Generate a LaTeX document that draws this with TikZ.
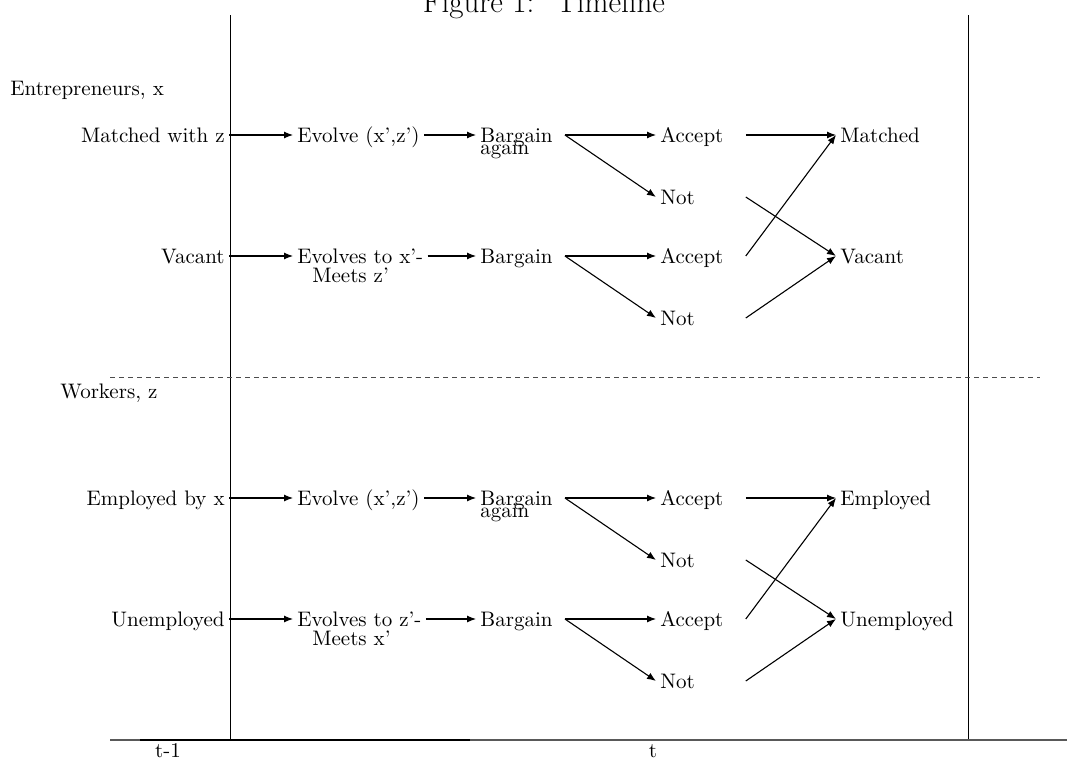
\documentclass[tikz,border=0pt]{standalone}
\usetikzlibrary{arrows.meta}
\begin{document}
\begin{tikzpicture}[x=0.5pt,y=-0.5pt,
  every node/.style={font=\fontsize{10.5}{12.6}\selectfont},
  lbl/.style={inner xsep=2pt,inner ysep=0pt,text height=7pt,text depth=0pt},
  opt/.style={lbl,anchor=west,text width=40.5pt,align=left},
  arr/.style={line width=0.55pt,-{Latex[length=4.5pt,width=3.5pt]}},
  rule/.style={line width=0.5pt}]
\useasboundingbox (0,0) rectangle (1067,760);
% title
\node[anchor=base,font=\fontsize{15.5}{18}\selectfont,inner sep=0] (title) at (544,12) {Figure 1:~ Timeline};
% frame lines
\draw[rule] (230,15) -- (230,740);
\draw[rule] (968,15) -- (968,740);
\draw[rule,dashed,dash pattern=on 2.5pt off 2pt,black!70] (110,377) -- (1040,377);
\draw[line width=0.6pt,black!65] (110,740) -- (1067,740);
\draw[line width=0.8pt] (140,740) -- (470,740);
\node[anchor=base,inner sep=0] (tm1) at (168,757) {t-1};
\node[anchor=base,inner sep=0] (tt) at (653,757) {t};
% group labels
\node[lbl,anchor=west] (ent) at (6,88) {Entrepreneurs, x};
\node[lbl,anchor=west] (wrk) at (56,391) {Workers, z};
% ---------- Entrepreneurs ----------
\node[lbl,anchor=east] (mwz) at (229,135) {Matched with z};
\node[lbl,anchor=west] (ev1) at (293,135) {Evolve (x',z')};
\node[lbl,anchor=west] (bg1) at (476,135) {Bargain};
\node[lbl,anchor=west] (ag1) at (476,147) {again};
\node[opt] (acc1) at (656,135) {Accept};
\node[opt] (not1) at (656,197) {Not};
\node[lbl,anchor=west] (mat) at (836,135) {Matched};
\node[lbl,anchor=east] (vac0) at (229,256) {Vacant};
\node[lbl,anchor=west] (ev2) at (293,256) {Evolves to x'-};
\node[lbl,anchor=west] (mt2) at (308,275) {Meets z'};
\node[lbl,anchor=west] (bg2) at (476,256) {Bargain};
\node[opt] (acc2) at (656,256) {Accept};
\node[opt] (not2) at (656,318) {Not};
\node[lbl,anchor=west] (vac) at (836,256) {Vacant};
\draw[arr] (mwz.east) -- (ev1.west);
\draw[arr] (ev1.east) -- (bg1.west);
\draw[arr] ([xshift=4pt]bg1.east) -- (acc1.west);
\draw[arr] ([xshift=4pt]bg1.east) -- (not1.west);
\draw[arr] (vac0.east) -- (ev2.west);
\draw[arr] (ev2.east) -- (bg2.west);
\draw[arr] ([xshift=4pt]bg2.east) -- (acc2.west);
\draw[arr] ([xshift=4pt]bg2.east) -- (not2.west);
\draw[arr] (acc1.east) -- (mat.west);
\draw[arr] (not1.east) -- (vac.west);
\draw[arr] (acc2.east) -- (mat.west);
\draw[arr] (not2.east) -- (vac.west);
% ---------- Workers ----------
\node[lbl,anchor=east] (ebx) at (229,498) {Employed by x};
\node[lbl,anchor=west] (ev3) at (293,498) {Evolve (x',z')};
\node[lbl,anchor=west] (bg3) at (476,498) {Bargain};
\node[lbl,anchor=west] (ag3) at (476,510) {again};
\node[opt] (acc3) at (656,498) {Accept};
\node[opt] (not3) at (656,560) {Not};
\node[lbl,anchor=west] (emp) at (836,498) {Employed};
\node[lbl,anchor=east] (une0) at (229,619) {Unemployed};
\node[lbl,anchor=west] (ev4) at (293,619) {Evolves to z'-};
\node[lbl,anchor=west] (mt4) at (308,638) {Meets x'};
\node[lbl,anchor=west] (bg4) at (476,619) {Bargain};
\node[opt] (acc4) at (656,619) {Accept};
\node[opt] (not4) at (656,681) {Not};
\node[lbl,anchor=west] (une) at (836,619) {Unemployed};
\draw[arr] (ebx.east) -- (ev3.west);
\draw[arr] (ev3.east) -- (bg3.west);
\draw[arr] ([xshift=4pt]bg3.east) -- (acc3.west);
\draw[arr] ([xshift=4pt]bg3.east) -- (not3.west);
\draw[arr] (une0.east) -- (ev4.west);
\draw[arr] (ev4.east) -- (bg4.west);
\draw[arr] ([xshift=4pt]bg4.east) -- (acc4.west);
\draw[arr] ([xshift=4pt]bg4.east) -- (not4.west);
\draw[arr] (acc3.east) -- (emp.west);
\draw[arr] (not3.east) -- (une.west);
\draw[arr] (acc4.east) -- (emp.west);
\draw[arr] (not4.east) -- (une.west);
\end{tikzpicture}
\end{document}
